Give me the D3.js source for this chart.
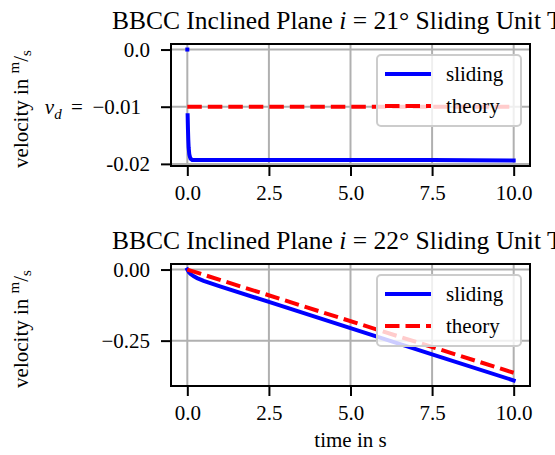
<!DOCTYPE html>
<html>
<head>
<meta charset="utf-8">
<script src="https://cdn.jsdelivr.net/npm/d3@7"></script>
<style>
  body { margin: 0; background: #fff; }
  svg { display: block; }
  text { font-family: "Liberation Serif", "DejaVu Serif", serif; fill: #000; }
</style>
</head>
<body>
<div id="chart"></div>
<script>
// panel 1: i = 21 deg
const time21 = [0, 0.01, 0.02, 0.03, 0.04, 0.06, 0.08, 0.1, 0.15, 0.2, 0.5, 1, 2.5, 5, 7.5, 10];
const sliding21 = [null, -0.0115, -0.0140, -0.0158, -0.0171, -0.0183, -0.0188, -0.0191, -0.0193, -0.0193, -0.0193, -0.0193, -0.0193, -0.0193, -0.0193, -0.0194];
const theoryTime21 = [0, 10];
const theory21 = [-0.01, -0.01];
const startTime21 = [0];
const startValue21 = [0];

// panel 2: i = 22 deg
const time22 = [0, 0.05, 0.1, 0.2, 0.3, 0.5, 1, 2.5, 5, 7.5, 10];
const sliding22 = [0, -0.010, -0.016, -0.024, -0.030, -0.040, -0.059, -0.114, -0.206, -0.298, -0.390];
const theoryTime22 = [0, 10];
const theory22 = [0, -0.363];

const xTicks = [0, 2.5, 5, 7.5, 10];
const xTickLabels = ["0.0", "2.5", "5.0", "7.5", "10.0"];
const yTicks21 = [0, -0.01, -0.02];
const yTickLabels21 = ["0.0", "vd", "-0.02"];
const yTicks22 = [0, -0.25];
const yTickLabels22 = ["0.00", "\u22120.25"];
const legendLabels = ["sliding", "theory"];

const width = 555;
const height = 455;
const left = 171, right = 530;
const panelH = 122;
const fs = 21;

const svg = d3.select("#chart")
  .append("svg")
  .attr("width", width)
  .attr("height", height);

// matplotlib style 5% margins
const pad = ([lo, hi]) => {
  const r = hi - lo;
  return [lo - r * 0.05, hi + r * 0.05];
};

const x = d3.scaleLinear().domain(pad([0, 10])).range([left, right]);

function drawPanel(top, angle, cfg) {
  const vals = cfg.sliding.filter(v => v !== null).concat(cfg.theory, cfg.extra || []);
  const y = d3.scaleLinear().domain(pad(d3.extent(vals))).range([top + panelH, top]);

  const g = svg.append("g");

  // grid
  g.selectAll(".gx").data(xTicks).enter().append("line")
    .attr("x1", d => x(d)).attr("x2", d => x(d))
    .attr("y1", top).attr("y2", top + panelH)
    .attr("stroke", "#b0b0b0").attr("stroke-width", 2);
  g.selectAll(".gy").data(cfg.yTicks).enter().append("line")
    .attr("x1", left).attr("x2", right)
    .attr("y1", d => y(d)).attr("y2", d => y(d))
    .attr("stroke", "#b0b0b0").attr("stroke-width", 2);

  const clipId = "clip" + angle;
  svg.append("clipPath").attr("id", clipId)
    .append("rect").attr("x", left).attr("y", top).attr("width", right - left).attr("height", panelH);

  const line = d3.line()
    .defined(d => d[1] !== null)
    .x(d => x(d[0]))
    .y(d => y(d[1]));

  const plot = g.append("g").attr("clip-path", `url(#${clipId})`);

  plot.append("path")
    .datum(cfg.time.map((t, i) => [t, cfg.sliding[i]]))
    .attr("d", line)
    .attr("fill", "none")
    .attr("stroke", "#0000ff")
    .attr("stroke-width", 4)
    .attr("stroke-linecap", "square");

  if (cfg.startTime) {
    plot.selectAll(".start").data(cfg.startTime).enter().append("rect")
      .attr("x", d => x(d) - 2)
      .attr("y", (d, i) => y(cfg.extra[i]) - 2)
      .attr("width", 4).attr("height", 4)
      .attr("fill", "#0000ff");
  }

  plot.append("path")
    .datum(cfg.theoryTime.map((t, i) => [t, cfg.theory[i]]))
    .attr("d", line)
    .attr("fill", "none")
    .attr("stroke", "#ff0000")
    .attr("stroke-width", 4)
    .attr("stroke-dasharray", "14.5,6");

  // axes
  const xAxis = g.append("g")
    .attr("transform", `translate(0,${top + panelH})`)
    .call(d3.axisBottom(x).tickValues(xTicks).tickSize(10).tickPadding(9)
      .tickFormat((d, i) => xTickLabels[i]));
  const yAxis = g.append("g")
    .attr("transform", `translate(${left},0)`)
    .call(d3.axisLeft(y).tickValues(cfg.yTicks).tickSize(10).tickPadding(11)
      .tickFormat((d, i) => cfg.yTickLabels[i]));

  [xAxis, yAxis].forEach(a => {
    a.select(".domain").remove();
    a.selectAll(".tick line").attr("stroke", "#000").attr("stroke-width", 2);
    a.selectAll(".tick text").attr("font-size", fs).attr("font-family", "Liberation Serif");
  });

  // mathtext tick v_d = -0.01
  yAxis.selectAll(".tick text").filter(d => d === -0.01)
    .text(null)
    .attr("dx", -9)
    .call(t => {
      t.append("tspan").attr("font-style", "italic").text("v");
      t.append("tspan").attr("font-style", "italic").attr("font-size", 15).attr("dy", 5).text("d");
      t.append("tspan").attr("dy", -5).text(" \u2009=\u2009 \u22120.01");
    });

  // frame
  g.append("rect")
    .attr("x", left).attr("y", top)
    .attr("width", right - left).attr("height", panelH)
    .attr("fill", "none").attr("stroke", "#000").attr("stroke-width", 2);

  // legend
  const lg = g.append("g").attr("transform", `translate(${right - 153},${top + 11})`);
  lg.append("rect")
    .attr("width", 144).attr("height", 71).attr("rx", 4)
    .attr("fill", "#fff").attr("fill-opacity", 0.8)
    .attr("stroke", "#cccccc").attr("stroke-width", 2);
  legendLabels.forEach((lab, i) => {
    const yy = 19 + i * 32;
    lg.append("line")
      .attr("x1", 8).attr("x2", 54).attr("y1", yy).attr("y2", yy)
      .attr("stroke", i === 0 ? "#0000ff" : "#ff0000")
      .attr("stroke-width", 4)
      .attr("stroke-dasharray", i === 0 ? null : "14.5,6");
    lg.append("text")
      .attr("x", 69).attr("y", yy + 7)
      .attr("font-size", fs)
      .text(lab);
  });

  // title
  const title = g.append("text")
    .attr("x", (left + right) / 2)
    .attr("y", top - 15)
    .attr("text-anchor", "middle")
    .attr("font-size", 25.5);
  title.append("tspan").text("BBCC Inclined Plane ");
  title.append("tspan").attr("font-style", "italic").text("i");
  title.append("tspan").text(` = ${angle}\u00b0 Sliding Unit Test`);

  // y label
  const yl = g.append("text")
    .attr("transform", `translate(28,${top + panelH / 2 + 4}) rotate(-90)`)
    .attr("text-anchor", "middle")
    .attr("font-size", fs);
  yl.append("tspan").text("velocity in ");
  yl.append("tspan").attr("font-size", 15).attr("dy", -9).text("m");
  yl.append("tspan").attr("dy", 9).text("/");
  yl.append("tspan").attr("font-size", 15).attr("dy", 3).text("s");
}

drawPanel(44, 21, {
  time: time21, sliding: sliding21,
  theoryTime: theoryTime21, theory: theory21,
  startTime: startTime21, extra: startValue21,
  yTicks: yTicks21, yTickLabels: yTickLabels21
});

drawPanel(264, 22, {
  time: time22, sliding: sliding22,
  theoryTime: theoryTime22, theory: theory22,
  yTicks: yTicks22, yTickLabels: yTickLabels22
});

svg.append("text")
  .attr("x", (left + right) / 2)
  .attr("y", 447)
  .attr("text-anchor", "middle")
  .attr("font-size", fs)
  .text("time in s");
</script>
</body>
</html>
